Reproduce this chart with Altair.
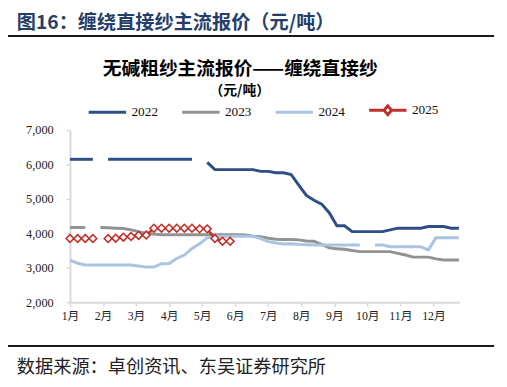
import altair as alt
import pandas as pd

# ---------------- data (weekly index 0..51) ----------------
years = ["2022", "2023", "2024", "2025"]
colors = ["#2D4F86", "#929292", "#A9C4E1", "#C0302A"]

v2022 = [6150, 6150, 6150, 6150, None,
         6150, 6150, 6150, 6150, 6150, 6150, 6150, 6150, 6150, 6150, 6150, 6150,
         None, 6060,
         5850, 5850, 5850, 5850, 5850, 5850,
         5800, 5800, 5760, 5760, 5710, 5400, 5100, 4960, 4850, 4600,
         4220, 4220, 4050, 4050, 4050, 4050, 4050, 4100,
         4150, 4150, 4150, 4150, 4200, 4200, 4200, 4150, 4150]

v2023 = [4170, 4170, 4170, None,
         4170, 4160, 4150, 4140, 4100, 4050, 4000, 3980, 3960,
         3960, 3960, 3960, 3960, 3960, 3960, 3960, 3960, 3960, 3960,
         3950, 3920, 3900, 3860, 3830, 3820, 3820, 3810, 3780, 3770,
         3680, 3580, 3550, 3540, 3500,
         3470, 3470, 3470, 3470, 3470,
         3420, 3370, 3310, 3310, 3310, 3260, 3225, 3225, 3225]

v2024 = [3225, 3130, 3080,
         3080, 3080, 3080, 3080, 3080, 3080,
         3050, 3020, 3020, 3120, 3125, 3270, 3370, 3560, 3700, 3870,
         3915, 3915, 3915, 3915, 3915, 3915,
         3850, 3760, 3720, 3690, 3700, 3680, 3670, 3660,
         3660, 3660, 3660, 3660, 3660, 3660,
         None, 3660, 3660,
         3610, 3610, 3610, 3610, 3610,
         3520, 3870, 3870, 3870, 3870]

v2025 = [3850, 3850, 3850, 3850, None,
         3850, 3860, 3890, 3910, 3940, 3950,
         4150, 4150, 4150, 4150, 4150, 4150, 4130, 4130,
         3850, 3770, 3770]

series = [v2022, v2023, v2024, v2025]

month_ticks = [i * 52 / 12 for i in range(12)]
y_ticks = [2000, 3000, 4000, 5000, 6000, 7000]

header_text = "图16：缠绕直接纱主流报价（元/吨）"
title_text = "无碱粗纱主流报价——缠绕直接纱"
unit_text = "（元/吨）"
source_text = "数据来源：卓创资讯、东吴证券研究所"

rows = []
for yr, vals in zip(years, series):
    seg = 0
    for k, v in enumerate(vals):
        if v is None:
            seg += 1
            continue
        rows.append({"week": k, "value": v, "year": yr, "seg": f"{yr}-{seg}"})
df = pd.DataFrame(rows)

# ---------------- scales / axes ----------------
xscale = alt.Scale(domain=[0, 51.1], nice=False, zero=False)
yscale = alt.Scale(domain=[2000, 7000], nice=False, zero=False)
cscale = alt.Scale(domain=years, range=colors)

AXIS_GRAY = "#D9D9D9"
LABEL_FONT = "Liberation Serif, Noto Sans CJK SC"

x_axis = alt.Axis(values=month_ticks,
                  labelExpr="round(datum.value*12/52)+1 + '月'",
                  title=None, grid=False, tickSize=4, tickWidth=1.5,
                  tickColor=AXIS_GRAY, domainColor=AXIS_GRAY, domainWidth=2,
                  labelFont=LABEL_FONT, labelFontSize=12, labelColor="#222",
                  labelPadding=5, labelFlush=False, labelOverlap=False)
y_axis = alt.Axis(values=y_ticks, format=",.0f", title=None, grid=False,
                  tickSize=4, tickWidth=1.5, tickColor=AXIS_GRAY,
                  domainColor=AXIS_GRAY, domainWidth=2,
                  labelFont="Liberation Serif", labelFontSize=12.5,
                  labelColor="#222", labelPadding=13)

DIAMOND_PATH = "M-1,0L-0.2,0M0.2,0L1,0M0,-0.24L0.2,0L0,0.24L-0.2,0Z"

legend = alt.Legend(title=None, orient="none", legendX=17.5, legendY=-41,
                    direction="horizontal", symbolSize=1444,
                    symbolStrokeWidth=3,
                    symbolType={"expr": "datum.value == '2025' ? '" + DIAMOND_PATH + "' : 'stroke'"},
                    labelFont="Liberation Serif", labelFontSize=13.5,
                    labelColor="#111", labelOffset=4, columnPadding=18,
                    padding=0)

X = alt.X("week:Q", scale=xscale, axis=x_axis)
Y = alt.Y("value:Q", scale=yscale, axis=y_axis)

base = alt.Chart(df)

layers = []
for i, yr in enumerate(years):
    ln = base.transform_filter(alt.datum.year == yr).mark_line(
        strokeWidth=3 if yr != "2025" else 2.5).encode(
        x=X, y=Y,
        color=alt.Color("year:N", scale=cscale, legend=legend),
        detail="seg:N",
    )
    layers.append(ln)

pts = base.transform_filter(alt.datum.year == "2025").mark_point(
    shape="diamond", filled=True, fill="white", stroke="#C0302A",
    strokeWidth=1.6, size=62, opacity=1).encode(x=X, y=Y)
layers.append(pts)


def txt(s, x, y, size, weight="normal", color="#000", align="left"):
    return alt.Chart(pd.DataFrame({"t": [s]})).mark_text(
        align=align, baseline="middle", fontSize=size, fontWeight=weight,
        color=color, font="Noto Sans CJK SC").encode(
        x=alt.value(x), y=alt.value(y), text="t:N")


def hline(y):
    return alt.Chart(pd.DataFrame({"a": [0]})).mark_rule(
        color="#1a1a1a", strokeWidth=2).encode(
        x=alt.value(-66), x2=alt.value(431), y=alt.value(y))


layers += [
    txt(header_text, -54, -109, 19.5, "bold", "#253E6A"),
    hline(-95.5),
    txt(title_text, 173, -61.5, 19, "bold", "#000", "center"),
    txt(unit_text, 172.5, -39.5, 14, "bold", "#000", "center"),
    hline(219.5),
    txt(source_text, -54, 240.5, 18.5, "normal", "#222"),
]

chart = alt.layer(*layers).properties(
    width=396, height=175,
    padding={"left": 63, "top": 121, "right": 40, "bottom": 75},
    autosize=alt.AutoSizeParams(type="none"),
    background="white",
).configure_view(stroke=None)

chart.save("out.html", embed_options={"renderer": "svg", "actions": False})
